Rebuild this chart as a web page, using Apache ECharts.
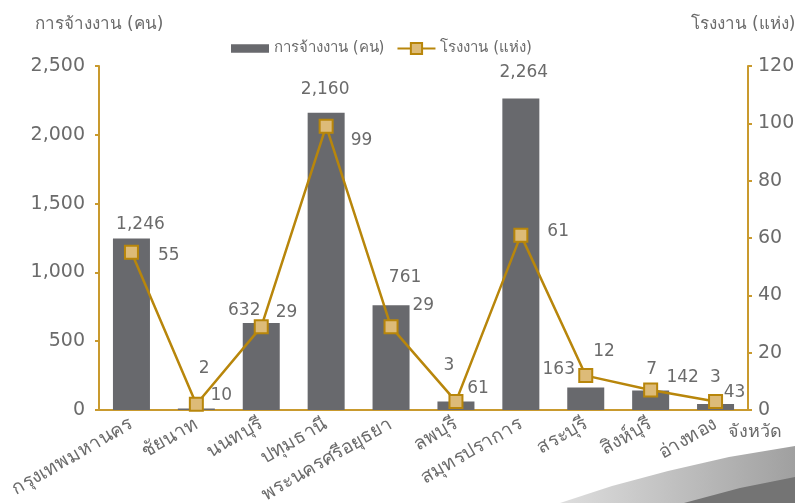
<!DOCTYPE html>
<html>
<head>
<meta charset="utf-8">
<script src="https://cdn.jsdelivr.net/npm/echarts@6/dist/echarts.min.js"></script>
<style>html,body{margin:0;padding:0;background:#fff;}#c{width:795px;height:503px;}</style>
</head>
<body>
<div id="c"></div>
<script>
// ---- data ----
const provinces = ['กรุงเทพมหานคร','ชัยนาท','นนทบุรี','ปทุมธานี','พระนครศรีอยุธยา','ลพบุรี','สมุทรปราการ','สระบุรี','สิงห์บุรี','อ่างทอง'];
const employment = [1246, 10, 632, 2160, 761, 61, 2264, 163, 142, 43];
const factories = [55, 2, 29, 99, 29, 3, 61, 12, 7, 3];
const leftTicks = [0, 500, 1000, 1500, 2000, 2500];
const rightTicks = [0, 20, 40, 60, 80, 100, 120];

// ---- label placement (styles only) ----
const barLabelShift = [[9,0],[25,0],[-17,1],[-1,-10],[14,-14],[22,0],[3,-12],[-27,-4],[32,1],[19,2]];
const lineLabelShift = [[14,3],[-10,-36],[2,-14],[12,14],[9,-21],[-25,-36],[14,-4],[-5,-24],[-17,-20],[-18,-24]];

const FONT = "Tahoma, 'DejaVu Sans', 'Noto Sans', sans-serif";
const GREY = '#6b6b6b';
const GOLD = '#C99A2E';
const LINE = '#B8860B';

function commas(v){ return String(v).replace(/\B(?=(\d{3})+(?!\d))/g, ','); }

const chart = echarts.init(document.getElementById('c'));
chart.setOption({
  animation: false,
  textStyle: { fontFamily: FONT },
  grid: { left: 99, right: 47, top: 66, bottom: 93, containLabel: false, outerBoundsMode: 'none' },
  legend: {
    left: 226, top: 36,
    itemWidth: 38, itemHeight: 14, itemGap: 12,
    textStyle: { fontFamily: FONT, fontSize: 15, color: GREY },
    data: [
      { name: 'การจ้างงาน (คน)', icon: 'path://M0,0h32v7h-32z' },
      { name: 'โรงงาน (แห่ง)' }
    ]
  },
  graphic: [
    { type: 'polygon', z: -1, silent: true,
      shape: { points: [[560,503],[612,486],[668,471],[729,457],[795,446],[795,503]] },
      style: { fill: new echarts.graphic.LinearGradient(0,0,1,0,[{offset:0,color:'#dedede'},{offset:1,color:'#a0a0a0'}]) } },
    { type: 'polygon', z: -1, silent: true,
      shape: { points: [[684,503],[740,488],[795,477],[795,503]] },
      style: { fill: '#747474' } }
  ],
  xAxis: {
    type: 'category',
    data: provinces,
    name: 'จังหวัด',
    nameLocation: 'end',
    nameGap: 7,
    nameTextStyle: { fontFamily: FONT, fontSize: 18, color: GREY, align: 'center', verticalAlign: 'top', padding: [13,0,0,0] },
    axisLine: { lineStyle: { color: GOLD, width: 2 } },
    axisTick: { show: false },
    axisLabel: { interval: 0, rotate: 30, fontSize: 19, color: GREY, margin: 13, fontFamily: FONT }
  },
  yAxis: [
    {
      type: 'value', min: leftTicks[0], max: leftTicks[leftTicks.length-1], interval: leftTicks[1]-leftTicks[0],
      name: 'การจ้างงาน (คน)', nameLocation: 'end', nameGap: 33,
      nameTextStyle: { fontFamily: FONT, fontSize: 17, color: GREY, align: 'center' },
      axisLine: { show: true, lineStyle: { color: GOLD, width: 2 } },
      axisTick: { show: true, length: 4, lineStyle: { color: GOLD, width: 2 } },
      axisLabel: { fontSize: 19, color: GREY, margin: 14, fontFamily: FONT, formatter: v => commas(v) },
      splitLine: { show: false }
    },
    {
      type: 'value', min: rightTicks[0], max: rightTicks[rightTicks.length-1], interval: rightTicks[1]-rightTicks[0],
      name: 'โรงงาน (แห่ง)', nameLocation: 'end', nameGap: 33,
      nameTextStyle: { fontFamily: FONT, fontSize: 17, color: GREY, align: 'center', padding: [0,10,0,0] },
      axisLine: { show: true, lineStyle: { color: GOLD, width: 2 } },
      axisTick: { show: true, length: 4, lineStyle: { color: GOLD, width: 2 } },
      axisLabel: { fontSize: 19, color: GREY, margin: 10, fontFamily: FONT },
      splitLine: { show: false }
    }
  ],
  series: [
    {
      name: 'การจ้างงาน (คน)',
      type: 'bar',
      yAxisIndex: 0,
      barWidth: 37,
      itemStyle: { color: '#68696d' },
      data: employment.map((v, i) => ({ value: v, label: { offset: barLabelShift[i] } })),
      label: { show: true, position: 'top', distance: 5, fontSize: 17, color: GREY, fontFamily: FONT,
               formatter: p => commas(p.value) }
    },
    {
      name: 'โรงงาน (แห่ง)',
      type: 'line',
      yAxisIndex: 1,
      symbol: 'rect',
      symbolSize: 13,
      lineStyle: { color: LINE, width: 2.5 },
      itemStyle: { color: '#DDBB78', borderColor: LINE, borderWidth: 2 },
      data: factories.map((v, i) => ({ value: v, label: { offset: lineLabelShift[i] } })),
      label: { show: true, position: 'right', distance: 5, fontSize: 17, color: GREY, fontFamily: FONT },
      z: 3
    }
  ]
});
</script>
</body>
</html>
